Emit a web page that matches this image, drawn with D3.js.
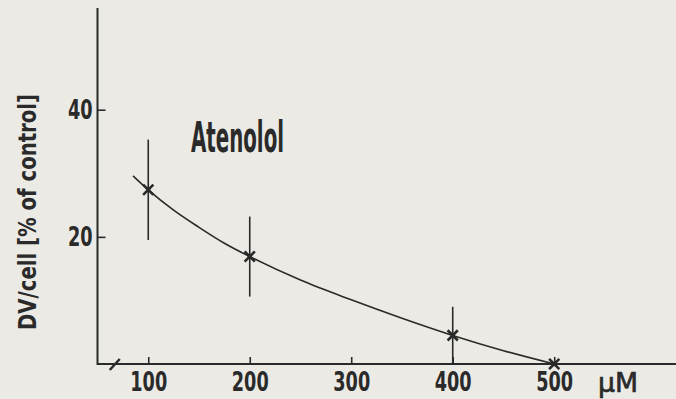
<!DOCTYPE html>
<html>
<head>
<meta charset="utf-8">
<script src="https://cdn.jsdelivr.net/npm/d3@7"></script>
<style>
  html, body { margin: 0; padding: 0; background: #ebeae5; }
  svg { display: block; }
</style>
</head>
<body>
<svg id="chart" width="676" height="399"></svg>
<script>
// Atenolol concentration (µM) against DV per cell (% of control)
const doses = [100, 200, 400, 500];
const meanValues = [27.4, 16.9, 4.5, 0];
const errorValues = [7.9, 6.3, 4.5, 0];

// Fitted dose–response curve
const curveDoses = [85, 100, 125, 150, 175, 200, 250, 300, 350, 400, 450, 500];
const curveValues = [29.6, 27.4, 24.2, 21.5, 19.0, 16.9, 13.2, 10.1, 7.2, 4.5, 2.1, 0];

const xTicks = [100, 200, 300, 400, 500];
const yTicks = [20, 40];
const xBreakAt = 67;

const ink = "#2a2a2a";
const font = "'DejaVu Sans Condensed', 'DejaVu Sans', sans-serif";

const svg = d3.select("#chart");

const x = d3.scaleLinear().domain([50, 620]).range([97.5, 676]);
const y = d3.scaleLinear().domain([0, 56]).range([364, 8]);

// Axis lines
svg.append("line")
  .attr("x1", x(50)).attr("x2", x(50))
  .attr("y1", y(0) + 1).attr("y2", y(56))
  .attr("stroke", ink).attr("stroke-width", 2);
svg.append("line")
  .attr("x1", x(50)).attr("x2", x(620))
  .attr("y1", y(0)).attr("y2", y(0))
  .attr("stroke", ink).attr("stroke-width", 2);

// Axis break mark near the origin
svg.append("line")
  .attr("x1", x(xBreakAt) - 5).attr("y1", y(0) + 6)
  .attr("x2", x(xBreakAt) + 5).attr("y2", y(0) - 5)
  .attr("stroke", ink).attr("stroke-width", 2.5);

// X axis ticks and labels
const xAxis = svg.append("g")
  .attr("transform", `translate(0,${y(0)})`)
  .call(d3.axisBottom(x).tickValues(xTicks).tickSizeInner(-7).tickSizeOuter(0).tickPadding(8));
xAxis.select(".domain").remove();
xAxis.selectAll(".tick line").attr("stroke", ink).attr("stroke-width", 1.6);
xAxis.selectAll(".tick text")
  .attr("fill", ink)
  .style("font-family", font).style("font-weight", "bold").style("font-size", "27px")
  .attr("textLength", d => String(d).length * 12.3)
  .attr("lengthAdjust", "spacingAndGlyphs");

// Y axis ticks and labels
const yAxis = svg.append("g")
  .attr("transform", `translate(${x(50)},0)`)
  .call(d3.axisLeft(y).tickValues(yTicks).tickSizeInner(-8).tickSizeOuter(0).tickPadding(5));
yAxis.select(".domain").remove();
yAxis.selectAll(".tick line").attr("stroke", ink).attr("stroke-width", 1.6);
yAxis.selectAll(".tick text")
  .attr("fill", ink)
  .style("font-family", font).style("font-weight", "bold").style("font-size", "26px")
  .attr("textLength", d => String(d).length * 12.3)
  .attr("lengthAdjust", "spacingAndGlyphs");

// Unit label at the end of the x axis
svg.append("text")
  .attr("x", 598).attr("y", 392)
  .attr("fill", ink)
  .style("font-family", font).style("font-size", "27px")
  .style("stroke", ink).style("stroke-width", 0.6)
  .attr("textLength", 40).attr("lengthAdjust", "spacingAndGlyphs")
  .text("µM");

// Y axis title
svg.append("text")
  .attr("transform", "translate(36,212) rotate(-90)")
  .attr("text-anchor", "middle")
  .attr("fill", ink)
  .style("font-family", font).style("font-weight", "bold").style("font-size", "25px")
  .attr("textLength", 236).attr("lengthAdjust", "spacingAndGlyphs")
  .text("DV/cell [% of control]");

// Drug name
svg.append("text")
  .attr("x", 191).attr("y", 152)
  .attr("fill", ink)
  .style("font-family", font).style("font-weight", "bold").style("font-size", "43px")
  .attr("textLength", 93).attr("lengthAdjust", "spacingAndGlyphs")
  .text("Atenolol");

// Fitted curve
const curveData = curveDoses.map((d, i) => [d, curveValues[i]]);
svg.append("path")
  .datum(curveData)
  .attr("fill", "none")
  .attr("stroke", ink)
  .attr("stroke-width", 1.6)
  .attr("d", d3.line().x(d => x(d[0])).y(d => y(d[1])).curve(d3.curveMonotoneX));

// Error bars
const points = doses.map((d, i) => ({ dose: d, mean: meanValues[i], err: errorValues[i] }));
svg.append("g").selectAll("line")
  .data(points.filter(p => p.err > 0))
  .join("line")
  .attr("x1", p => x(p.dose)).attr("x2", p => x(p.dose))
  .attr("y1", p => y(p.mean + p.err))
  .attr("y2", p => y(Math.max(0, p.mean - p.err)))
  .attr("stroke", ink).attr("stroke-width", 1.6);

// Star markers
svg.append("g").selectAll("path")
  .data(points)
  .join("path")
  .attr("transform", p => `translate(${x(p.dose)},${y(p.mean)})`)
  .attr("d", d3.symbol().type(d3.symbolTimes).size(70))
  .attr("fill", "none")
  .attr("stroke", ink).attr("stroke-width", 2.6);
svg.append("g").selectAll("circle")
  .data(points)
  .join("circle")
  .attr("cx", p => x(p.dose)).attr("cy", p => y(p.mean))
  .attr("r", 2.2)
  .attr("fill", ink);
</script>
</body>
</html>
